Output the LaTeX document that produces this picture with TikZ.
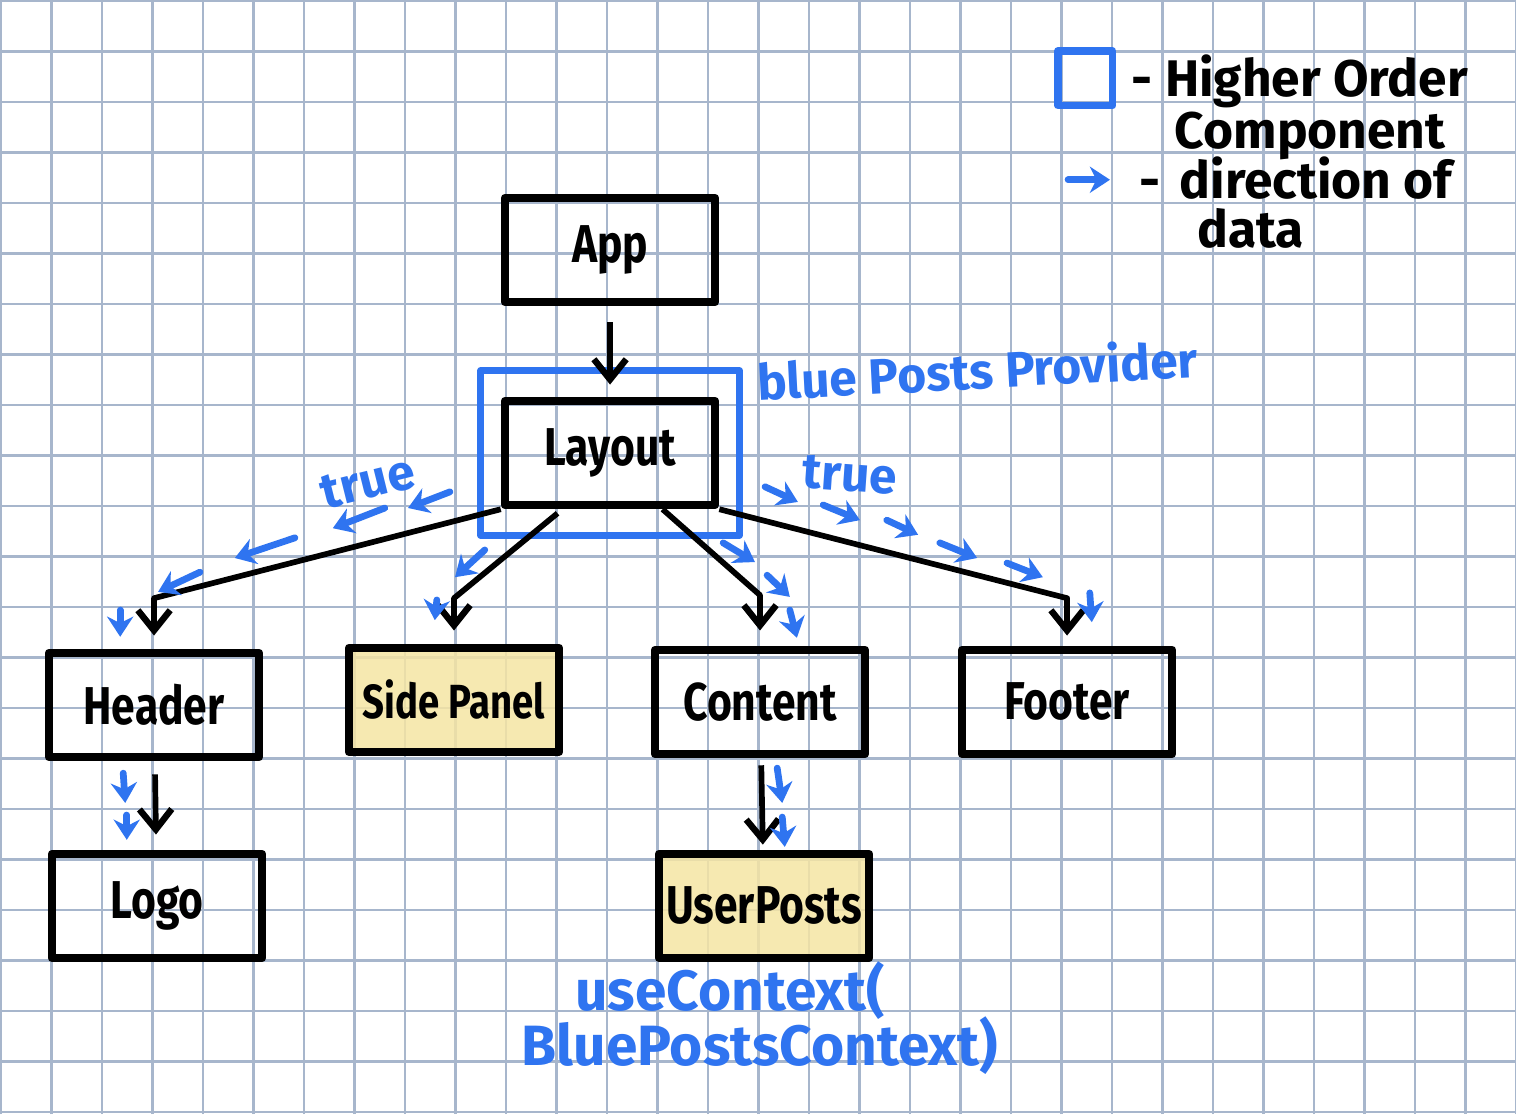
\documentclass[tikz,border=0pt]{standalone}
\usepackage{fontspec}
\setmainfont{Fira Sans}
\newfontfamily\handfont{Fira Sans}[FakeStretch=0.8]
\usetikzlibrary{arrows.meta,fit}

\definecolor{gridblue}{RGB}{167,182,204}
\definecolor{penblue}{RGB}{47,116,240}
\definecolor{noteyellow}{RGB}{245,229,163}

\tikzset{
  gridline/.style={gridblue,line width=0.6pt},
  comp/.style={draw,line width=2.4pt,line join=round,minimum width=2.08cm,minimum height=1.03cm,
    inner xsep=1pt,font=\handfont\fontsize{15}{15}\selectfont\bfseries},
  hoc/.style={draw=penblue,line width=1.8pt,line join=round},
  flow/.style={line width=1.6pt,line join=round,-{Straight Barb[length=2mm,width=3.2mm,line width=1.8pt]}},
  dataflow/.style={penblue,line width=1.9pt,line cap=round,-{Stealth[length=2mm,width=2.6mm]}},
  penlabel/.style={text=penblue,inner sep=1pt,font=\fontsize{14}{14}\selectfont\bfseries},
  keytext/.style={anchor=base west,inner sep=0pt,font=\fontsize{14.5}{14.5}\selectfont\bfseries}
}

\begin{document}
\begin{tikzpicture}[x=0.5cm,y=0.5cm]
\useasboundingbox (0,0) rectangle (30.02,22.06);
% grid paper
\foreach \k in {0,...,30} \draw[gridline] (0.02+\k,0) -- (0.02+\k,22.06);
\foreach \k in {0,...,22} \draw[gridline] (0,22.04-\k) -- (30.02,22.04-\k);

% components
\node[comp] (app) at (12.08,17.11) {App};
\node[comp] (layout) at (12.08,13.09) {Layout};
\node[hoc,fit=(layout),inner xsep=0.2cm,inner ysep=0.26cm] (provider) {};
\node[comp] (header) at (3.05,8.10) {Header};
\node[comp,fill=noteyellow,fill opacity=0.85,text opacity=1,font=\handfont\fontsize{13.5}{13.5}\selectfont\bfseries] (sidepanel) at (8.99,8.20) {Side Panel};
\node[comp] (content) at (15.05,8.16) {Content};
\node[comp] (footer) at (21.13,8.16) {Footer};
\node[comp] (logo) at (3.11,4.12) {Logo};
\node[comp,fill=noteyellow,fill opacity=0.85,text opacity=1] (userposts) at (15.13,4.12) {UserPosts};

% tree
\draw[flow,shorten <=0.16cm,shorten >=0.12cm] (app) -- (layout);
\draw[flow,shorten >=0.13cm] (layout.south west) -- ([yshift=0.5cm]header.north) -- (header.north);
\draw[flow,shorten >=0.13cm] ([xshift=-0.52cm,yshift=-0.04cm]layout.south) -- ([yshift=0.45cm]sidepanel.north) -- (sidepanel.north);
\draw[flow,shorten >=0.15cm] ([xshift=0.52cm]layout.south) -- ([yshift=0.5cm]content.north) -- (content.north);
\draw[flow,shorten >=0.1cm] (layout.south east) -- ([yshift=0.47cm]footer.north) -- (footer.north);
\draw[flow,shorten <=0.13cm,shorten >=0.15cm] (header) -- (logo);
\draw[flow,shorten <=0.07cm,shorten >=0.05cm] (content) -- (userposts);

% data flow marks
\foreach \xa/\ya/\xb/\yb in {8.91/12.32/8.08/12.00, 7.62/12.00/6.59/11.60, 5.84/11.41/4.65/11.01,
    3.96/10.73/3.13/10.34, 2.38/9.98/2.38/9.45, 9.60/11.17/9.01/10.63, 8.65/10.18/8.61/9.78,
    15.15/12.42/15.80/12.12, 16.30/12.06/17.03/11.76, 17.56/11.76/18.18/11.47,
    18.61/11.31/19.35/11.01, 19.94/10.91/20.65/10.63, 14.32/11.31/14.95/10.93,
    15.19/10.67/15.64/10.24, 15.64/9.98/15.78/9.43, 21.58/10.32/21.62/9.74,
    2.44/6.75/2.48/6.16, 2.51/5.92/2.51/5.43, 15.39/6.85/15.49/6.16, 15.49/5.88/15.54/5.29}
  \draw[dataflow] (\xa,\ya) -- (\xb,\yb);

% blue notes
\node[penlabel,rotate=3] (providername) at (19.35,14.75) {blue Posts Provider};
\node[penlabel,rotate=14] (trueleft) at (7.29,12.51) {true};
\node[penlabel,rotate=-4] (trueright) at (16.83,12.65) {true};
\node[penlabel,font=\fontsize{16}{16}\selectfont\bfseries] (hookcall) at (14.46,2.45) {useContext(};
\node[penlabel,font=\fontsize{16}{16}\selectfont\bfseries] (hookarg) at (15.05,1.35) {BluePostsContext)};

% key
\node[hoc,line width=2.2pt,minimum size=0.54cm] (keybox) at (21.49,20.51) {};
\node[keytext] (keyhoc) at (22.40,20.15) {- Higher Order};
\node[keytext] (keyhocb) at (23.25,19.12) {Component};
\coordinate (keytail) at (21.15,18.50);
\coordinate (keyhead) at (21.98,18.50);
\draw[dataflow] (keytail) -- (keyhead);
\node[keytext] (keydash) at (22.55,18.12) {-};
\node[keytext] (keyflow) at (23.35,18.12) {direction of};
\node[keytext] (keyflowb) at (23.70,17.15) {data};
\end{tikzpicture}
\end{document}
